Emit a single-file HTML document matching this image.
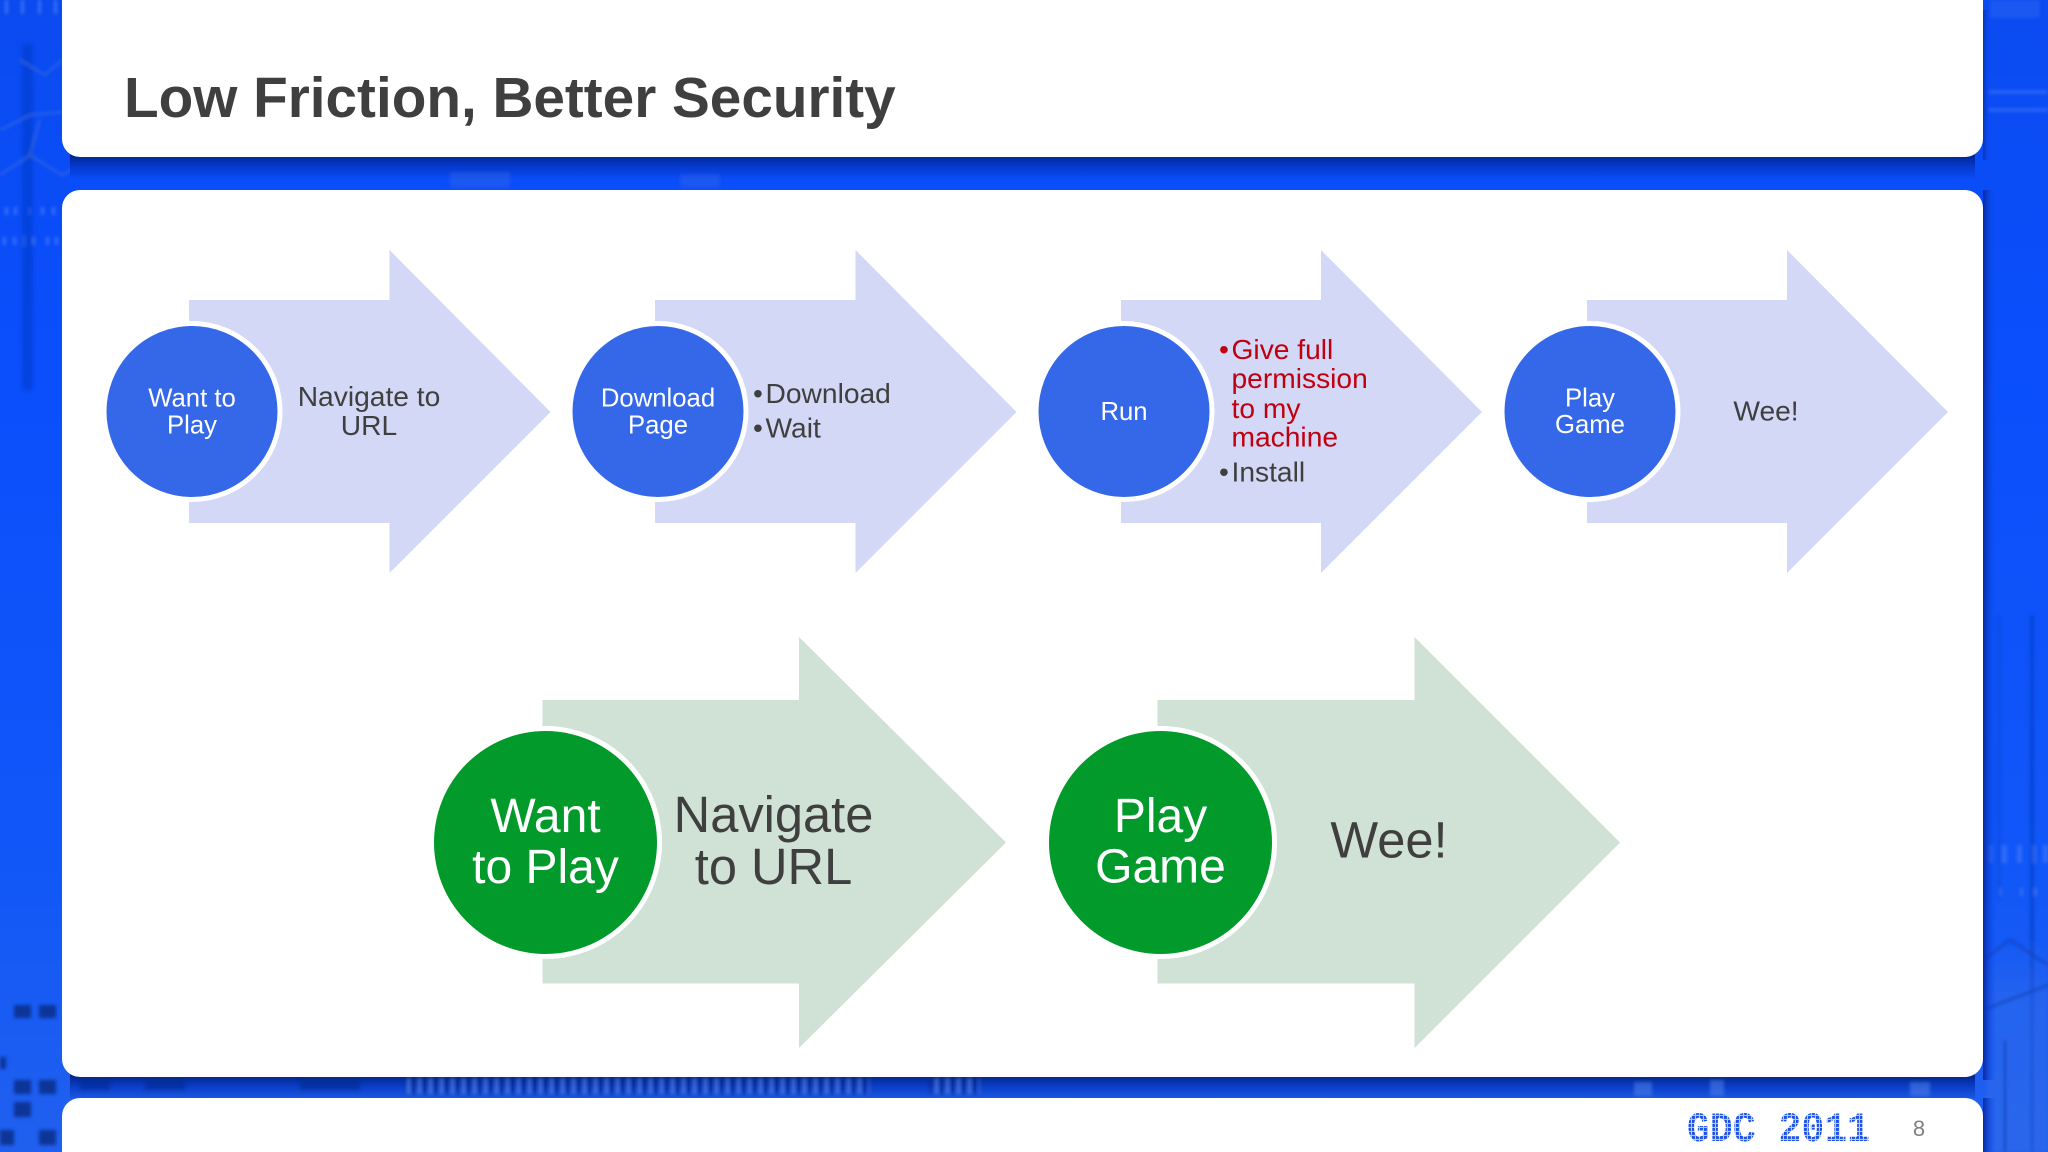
<!DOCTYPE html>
<html>
<head>
<meta charset="utf-8">
<style>
html,body{margin:0;padding:0;width:2048px;height:1152px;overflow:hidden;background:#0a4ffb}
svg{display:block;font-family:"Liberation Sans",sans-serif}
</style>
</head>
<body>
<svg width="2048" height="1152" viewBox="0 0 2048 1152" xmlns="http://www.w3.org/2000/svg">
<defs>
<linearGradient id="sh1" x1="0" y1="0" x2="0" y2="1">
<stop offset="0" stop-color="#00186b"/><stop offset=".35" stop-color="#0436c4"/><stop offset=".75" stop-color="#0a4dfa"/><stop offset="1" stop-color="#0a4dfa"/>
</linearGradient>
<linearGradient id="sh2" x1="0" y1="0" x2="0" y2="1">
<stop offset="0" stop-color="#00186b"/><stop offset=".6" stop-color="#0a3fc8"/><stop offset="1" stop-color="#1a56e0"/>
</linearGradient>
<linearGradient id="sr" x1="0" y1="0" x2="1" y2="0">
<stop offset="0" stop-color="#0a2aa0"/><stop offset="1" stop-color="#0a4dfb" stop-opacity="0"/>
</linearGradient>
<linearGradient id="bg" x1="0" y1="0" x2="0" y2="1">
<stop offset="0" stop-color="#0b4bf0"/><stop offset=".3" stop-color="#0a4efc"/><stop offset=".75" stop-color="#1157f8"/><stop offset="1" stop-color="#2160ee"/>
</linearGradient>
<linearGradient id="wash" x1="0" y1="0" x2="0" y2="1">
<stop offset="0" stop-color="#3a70e8" stop-opacity="0"/><stop offset=".3" stop-color="#3a70e8" stop-opacity=".4"/><stop offset="1" stop-color="#3a70e8" stop-opacity=".4"/>
</linearGradient>
<pattern id="dots" width="4" height="4" patternUnits="userSpaceOnUse">
<rect width="4" height="4" fill="#b5caf7"/><rect width="2.9" height="2.9" fill="#1a50e6"/>
</pattern>
<pattern id="stripes" width="11" height="12" patternUnits="userSpaceOnUse">
<rect width="3" height="12" fill="#7fa0ea" opacity=".55"/><rect x="5" width="3" height="12" fill="#00206f" opacity=".5"/>
</pattern>
<filter id="soft" x="-5%" y="-5%" width="110%" height="110%"><feGaussianBlur stdDeviation="1.6"/></filter>
</defs>

<!-- background -->
<rect width="2048" height="1152" fill="url(#bg)"/>
<g filter="url(#soft)">
<!-- left strip decoration -->
<g fill="#5f8df8" opacity=".55">
<rect x="5" y="0" width="3" height="14"/><rect x="21" y="0" width="3" height="14"/><rect x="38" y="0" width="3" height="14"/><rect x="54" y="0" width="3" height="14"/>
<rect x="5" y="207" width="3" height="8"/><rect x="14" y="207" width="3" height="8"/><rect x="28" y="207" width="3" height="8"/><rect x="41" y="207" width="3" height="8"/><rect x="52" y="207" width="3" height="8"/>
<rect x="3" y="237" width="3" height="8"/><rect x="13" y="237" width="3" height="8"/><rect x="22" y="235" width="4" height="12"/><rect x="32" y="237" width="3" height="8"/><rect x="46" y="237" width="3" height="8"/><rect x="55" y="237" width="3" height="8"/>
</g>
<rect x="22" y="44" width="11" height="346" fill="#0a3bc8" opacity=".55"/>
<g fill="none" stroke="#4b79d8" stroke-width="2.5" opacity=".45">
<path d="M0 130L30 115L62 112M0 175L30 155L40 120M30 155L62 175L110 150L160 180L210 150L260 180L310 150L360 185M20 60L45 75L62 60"/>
</g>
<g fill="#0a3498">
<rect x="14" y="1005" width="17" height="13"/><rect x="39" y="1005" width="17" height="13"/>
<rect x="0" y="1057" width="6" height="12"/>
<rect x="14" y="1080" width="17" height="14"/><rect x="39" y="1080" width="17" height="14"/>
<rect x="14" y="1102" width="17" height="15"/>
<rect x="0" y="1130" width="14" height="15"/><rect x="39" y="1130" width="17" height="15"/>
</g>
<!-- right strip decoration -->
<g fill="#5f8df8" opacity=".4">
<rect x="1990" y="0" width="50" height="18" opacity=".5"/>
<rect x="1988" y="90" width="60" height="4" opacity=".9"/>
<rect x="1988" y="108" width="60" height="4" opacity=".9"/>
<rect x="1988" y="845" width="5" height="18"/><rect x="2002" y="845" width="5" height="18"/><rect x="2017" y="845" width="5" height="18"/><rect x="2031" y="845" width="5" height="18"/><rect x="2043" y="845" width="5" height="18"/>
<rect x="1999" y="888" width="3" height="8"/><rect x="2020" y="888" width="3" height="8"/><rect x="2034" y="888" width="3" height="8"/>
</g>
<rect x="2030" y="615" width="4" height="537" fill="#0a3cc0" opacity=".6"/>
<rect x="1997" y="615" width="4" height="285" fill="#0a3cc0" opacity=".25"/>
<rect x="1986" y="940" width="62" height="212" fill="url(#wash)"/>
<g fill="none" stroke="#0b3fb5" stroke-width="3" opacity=".6">
<path d="M1983 960L2010 940L2048 965M1983 1010L2048 985M2005 1040V1152"/>
</g>
</g>

<!-- shadow bands -->
<rect x="70" y="150" width="1905" height="40" fill="url(#sh1)"/>
<rect x="70" y="1070" width="1905" height="28" fill="url(#sh2)"/>
<g filter="url(#soft)">
<rect x="405" y="1078" width="465" height="16" fill="url(#stripes)"/>
<rect x="930" y="1078" width="50" height="16" fill="url(#stripes)"/>
<g fill="#0a2a90" opacity=".55">
<rect x="80" y="1078" width="30" height="12"/><rect x="145" y="1078" width="40" height="12"/><rect x="300" y="1078" width="60" height="12"/>
</g>
<g fill="#5f8df0" opacity=".45">
<rect x="1634" y="1082" width="18" height="14"/><rect x="1710" y="1080" width="14" height="16"/><rect x="1910" y="1082" width="20" height="14"/>
</g>
<g fill="#4b79d8" opacity=".25">
<rect x="450" y="172" width="60" height="16"/><rect x="680" y="174" width="40" height="14"/>
</g>
</g>
<rect x="1983" y="10" width="8" height="150" fill="url(#sr)" opacity=".7"/>
<rect x="1983" y="190" width="13" height="890" fill="url(#sr)"/>
<rect x="1983" y="1098" width="13" height="54" fill="url(#sr)"/>

<!-- panels -->
<path d="M62 -30H1983V139a18 18 0 0 1-18 18H80a18 18 0 0 1-18-18Z" fill="#fff"/>
<rect x="62" y="190" width="1921" height="887" rx="18" fill="#fff"/>
<rect x="62" y="1098" width="1921" height="90" rx="18" fill="#fff"/>

<text x="124" y="117" font-size="56.7" font-weight="bold" fill="#3f3f3f">Low Friction, Better Security</text>

<!-- blue arrows -->
<g fill="#d2d8f5">
<path d="M189 300H389.5V250L550.5 412L389.5 573V523H189Z"/>
<path d="M655 300H855.5V250L1016.5 412L855.5 573V523H655Z"/>
<path d="M1121 300H1321V250L1482 412L1321 573V523H1121Z"/>
<path d="M1587 300H1787V250L1948 412L1787 573V523H1587Z"/>
</g>
<g fill="#3568e8" stroke="#fff" stroke-width="5">
<circle cx="192" cy="411.5" r="88"/>
<circle cx="658" cy="411.5" r="88"/>
<circle cx="1124" cy="411.5" r="88"/>
<circle cx="1590" cy="411.5" r="88"/>
</g>
<g fill="#fff" font-size="25.7" text-anchor="middle">
<text x="192" y="406.5">Want to</text><text x="192" y="433.5">Play</text>
<text x="658" y="406.5">Download</text><text x="658" y="433.5">Page</text>
<text x="1124" y="420">Run</text>
<text x="1590" y="406.5">Play</text><text x="1590" y="433">Game</text>
</g>
<g fill="#3f3f3f" font-size="28.2">
<text x="369" y="406" text-anchor="middle">Navigate to</text>
<text x="369" y="435" text-anchor="middle">URL</text>
<text x="753" y="403">•</text><text x="765.5" y="403">Download</text>
<text x="753" y="437.5">•</text><text x="765.5" y="437.5">Wait</text>
<text x="1219" y="481.5">•</text><text x="1231.5" y="481.5">Install</text>
<text x="1766" y="420.5" text-anchor="middle">Wee!</text>
</g>
<g fill="#c00010" font-size="28.2">
<text x="1219" y="359">•</text><text x="1231.5" y="359">Give full</text>
<text x="1231.5" y="388">permission</text>
<text x="1231.5" y="418">to my</text>
<text x="1231.5" y="446.5">machine</text>
</g>

<!-- green arrows -->
<g fill="#d0e1d5">
<path d="M542.5 700H799V637L1006 842.5L799 1048V983.5H542.5Z"/>
<path d="M1157.5 700H1414.5V637L1620 842.5L1414.5 1048V983.5H1157.5Z"/>
</g>
<g fill="#029a2b" stroke="#fff" stroke-width="5">
<circle cx="545.5" cy="842.5" r="114"/>
<circle cx="1160.5" cy="842.5" r="114"/>
</g>
<g fill="#fff" font-size="48" text-anchor="middle">
<text x="545.5" y="832">Want</text><text x="545.5" y="883">to Play</text>
<text x="1160.5" y="832">Play</text><text x="1160.5" y="882.5">Game</text>
</g>
<g fill="#3f3f3f" font-size="50.6" text-anchor="middle">
<text x="773.5" y="832">Navigate</text><text x="773.5" y="884">to URL</text>
<text x="1389" y="857.5">Wee!</text>
</g>

<!-- footer -->
<text x="1687" y="1141" font-family="Liberation Mono, monospace" font-weight="bold" font-size="42" textLength="183" lengthAdjust="spacingAndGlyphs" fill="url(#dots)">GDC 2011</text>
<text x="1919" y="1136" font-size="22" fill="#808080" text-anchor="middle">8</text>
</svg>
</body>
</html>
